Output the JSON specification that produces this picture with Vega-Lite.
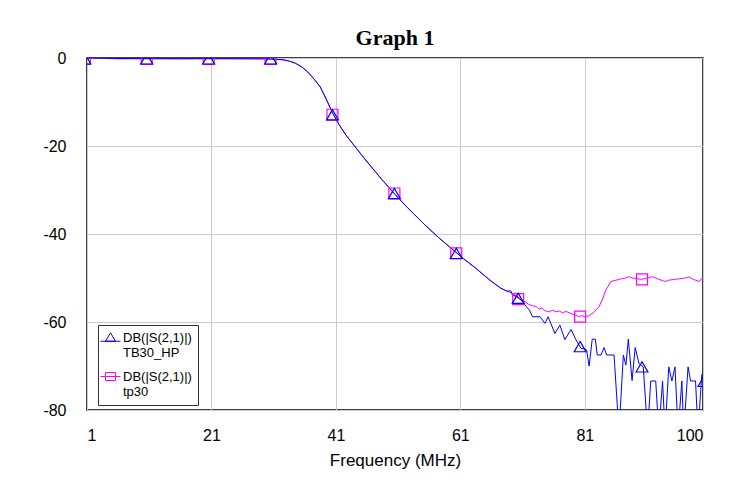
{
  "$schema": "https://vega.github.io/schema/vega-lite/v6.json",
  "width": 616,
  "height": 352,
  "autosize": {"type": "none"},
  "padding": {"left": 87, "top": 58, "right": 29, "bottom": 78},
  "background": "white",
  "title": {"text": "Graph 1", "font": "Liberation Serif", "fontSize": 22, "fontWeight": "bold", "color": "black", "offset": 0, "anchor": "middle"},
  "datasets": {
    "tb30": [
      {"freq":1,"db":0},{"freq":3,"db":-0.05},{"freq":6,"db":-0.1},{"freq":11,"db":-0.15},{"freq":16,"db":-0.15},{"freq":21,"db":-0.15},{"freq":26,"db":-0.15},{"freq":30,"db":-0.2},{"freq":31.5,"db":-0.3},{"freq":32.5,"db":-0.4},{"freq":33.5,"db":-0.7},{"freq":34.5,"db":-1.2},{"freq":35.5,"db":-2.0},{"freq":36.5,"db":-3.2},{"freq":37.5,"db":-4.8},{"freq":38.5,"db":-6.6},{"freq":39.5,"db":-9.5},{"freq":40.5,"db":-12.6},{"freq":41.5,"db":-15.1},{"freq":42.5,"db":-17.3},{"freq":43.5,"db":-19.1},{"freq":44.5,"db":-20.9},{"freq":45.5,"db":-22.7},{"freq":46.5,"db":-24.4},{"freq":47.5,"db":-26.1},{"freq":48.5,"db":-27.8},{"freq":49.5,"db":-29.4},{"freq":50.5,"db":-31.0},{"freq":51.5,"db":-32.5},{"freq":52.5,"db":-34.0},{"freq":53.5,"db":-35.4},{"freq":54.5,"db":-36.8},{"freq":55.5,"db":-38.2},{"freq":56.5,"db":-39.5},{"freq":57.5,"db":-40.8},{"freq":58.5,"db":-42.0},{"freq":59.5,"db":-43.2},{"freq":60.5,"db":-44.4},{"freq":61.5,"db":-45.6},{"freq":62.5,"db":-46.7},{"freq":63.5,"db":-47.8},{"freq":64.5,"db":-49.0},{"freq":65.5,"db":-50.2},{"freq":66.5,"db":-51.3},{"freq":67.5,"db":-52.3},{"freq":68.5,"db":-53.0},{"freq":69.1,"db":-52.9},{"freq":69.4,"db":-53.9},{"freq":70.3,"db":-54.3},
      {"freq":71.0,"db":-55.4},{"freq":71.6,"db":-56.5},{"freq":72.1,"db":-57.3},{"freq":72.6,"db":-58.8},{"freq":73.8,"db":-58.8},{"freq":74.6,"db":-60.3},{"freq":75.1,"db":-58.8},{"freq":76.2,"db":-62.6},{"freq":77.0,"db":-60.7},{"freq":77.8,"db":-64.0},{"freq":78.8,"db":-61.7},{"freq":79.6,"db":-64.1},{"freq":80.4,"db":-66.0},{"freq":80.9,"db":-66.1},{"freq":81.3,"db":-66.4},{"freq":81.7,"db":-70.0},{"freq":82.2,"db":-63.9},{"freq":82.7,"db":-63.9},{"freq":83.0,"db":-67.5},{"freq":83.6,"db":-67.5},{"freq":84.1,"db":-65.8},{"freq":84.5,"db":-67.5},{"freq":85.7,"db":-67.5},{"freq":86.5,"db":-85},{"freq":87.2,"db":-67.5},{"freq":87.6,"db":-69.8},{"freq":88.0,"db":-63.9},{"freq":88.6,"db":-73.3},{"freq":89.1,"db":-65.8},{"freq":89.7,"db":-69.4},{"freq":90.4,"db":-70.2},{"freq":91.1,"db":-85},{"freq":91.6,"db":-73.4},{"freq":92.4,"db":-73.4},{"freq":92.9,"db":-85},{"freq":93.5,"db":-73.4},{"freq":93.9,"db":-85},{"freq":94.5,"db":-70.2},{"freq":95.0,"db":-73.4},{"freq":95.5,"db":-70.2},{"freq":96.0,"db":-85},{"freq":96.6,"db":-73.4},{"freq":96.9,"db":-85},{"freq":97.6,"db":-70.2},{"freq":98.0,"db":-73.4},{"freq":98.8,"db":-73.4},{"freq":99.2,"db":-85},{"freq":99.8,"db":-72.0},{"freq":100,"db":-71.5}
    ],
    "tp30": [
      {"freq":1,"db":0},{"freq":3,"db":-0.05},{"freq":6,"db":-0.2},{"freq":11,"db":-0.15},{"freq":16,"db":-0.2},{"freq":21,"db":-0.15},{"freq":26,"db":-0.2},{"freq":30,"db":-0.2},{"freq":31.5,"db":-0.3},{"freq":32.5,"db":-0.4},{"freq":33.5,"db":-0.7},{"freq":34.5,"db":-1.2},{"freq":35.5,"db":-2.0},{"freq":36.5,"db":-3.2},{"freq":37.5,"db":-4.8},{"freq":38.5,"db":-6.6},{"freq":39.5,"db":-9.5},{"freq":40.5,"db":-12.6},{"freq":41.5,"db":-15.1},{"freq":42.5,"db":-17.3},{"freq":43.5,"db":-19.1},{"freq":44.5,"db":-20.9},{"freq":45.5,"db":-22.7},{"freq":46.5,"db":-24.4},{"freq":47.5,"db":-26.1},{"freq":48.5,"db":-27.8},{"freq":49.5,"db":-29.4},{"freq":50.5,"db":-31.0},{"freq":51.5,"db":-32.5},{"freq":52.5,"db":-34.0},{"freq":53.5,"db":-35.4},{"freq":54.5,"db":-36.8},{"freq":55.5,"db":-38.2},{"freq":56.5,"db":-39.5},{"freq":57.5,"db":-40.8},{"freq":58.5,"db":-42.0},{"freq":59.5,"db":-43.2},{"freq":60.5,"db":-44.4},{"freq":61.5,"db":-45.6},{"freq":62.5,"db":-46.7},{"freq":63.5,"db":-47.8},{"freq":64.5,"db":-49.0},{"freq":65.5,"db":-50.2},{"freq":66.5,"db":-51.3},{"freq":67.5,"db":-52.3},{"freq":68.5,"db":-53.0},{"freq":69.5,"db":-53.6},{"freq":70.5,"db":-54.8},
      {"freq":71.4,"db":-55.4},{"freq":72.0,"db":-56.0},{"freq":72.6,"db":-56.3},{"freq":73.2,"db":-56.5},{"freq":73.7,"db":-57.1},{"freq":74.1,"db":-56.8},{"freq":74.5,"db":-57.4},{"freq":75.3,"db":-57.7},{"freq":75.8,"db":-57.3},{"freq":76.4,"db":-57.7},{"freq":76.9,"db":-57.5},{"freq":77.4,"db":-57.9},{"freq":78.0,"db":-57.6},{"freq":78.5,"db":-57.9},{"freq":79.0,"db":-58.2},{"freq":79.6,"db":-58.4},{"freq":80.1,"db":-58.8},{"freq":80.5,"db":-58.5},{"freq":80.9,"db":-58.8},{"freq":81.7,"db":-58.6},{"freq":82.5,"db":-57.7},{"freq":83.3,"db":-56.5},{"freq":83.8,"db":-55.0},{"freq":84.4,"db":-52.7},{"freq":85.2,"db":-50.8},{"freq":86.0,"db":-50.5},{"freq":86.6,"db":-50.3},{"freq":87.1,"db":-50.1},{"freq":87.6,"db":-50.0},{"freq":88.1,"db":-49.7},{"freq":88.6,"db":-50.0},{"freq":89.2,"db":-50.1},{"freq":90.0,"db":-50.3},{"freq":90.8,"db":-50.1},{"freq":91.3,"db":-49.9},{"freq":91.9,"db":-49.7},{"freq":92.4,"db":-50.0},{"freq":92.9,"db":-50.3},{"freq":93.5,"db":-50.6},{"freq":94.0,"db":-50.8},{"freq":94.5,"db":-50.5},{"freq":95.0,"db":-50.4},{"freq":95.6,"db":-50.3},{"freq":96.1,"db":-50.2},{"freq":96.7,"db":-50.1},{"freq":97.2,"db":-50.0},{"freq":97.8,"db":-49.8},{"freq":98.3,"db":-50.2},{"freq":98.8,"db":-50.5},{"freq":99.4,"db":-50.8},{"freq":99.8,"db":-50.1},{"freq":100,"db":-50.3}
    ],
    "markers": [
      {"series":"TB30_HP","freq":0.65,"db":-0.2},{"series":"TB30_HP","freq":10.6,"db":-0.2},{"series":"TB30_HP","freq":20.55,"db":-0.2},{"series":"TB30_HP","freq":30.5,"db":-0.2},{"series":"TB30_HP","freq":40.45,"db":-12.9},{"series":"TB30_HP","freq":50.4,"db":-30.8},{"series":"TB30_HP","freq":60.35,"db":-44.4},{"series":"TB30_HP","freq":70.3,"db":-54.6},{"series":"TB30_HP","freq":80.25,"db":-65.6},{"series":"TB30_HP","freq":90.2,"db":-70.2},{"series":"TB30_HP","freq":100.15,"db":-73.5},
      {"series":"tp30","freq":0.65,"db":-0.2},{"series":"tp30","freq":10.6,"db":-0.2},{"series":"tp30","freq":20.55,"db":-0.2},{"series":"tp30","freq":30.5,"db":-0.2},{"series":"tp30","freq":40.45,"db":-12.9},{"series":"tp30","freq":50.4,"db":-30.8},{"series":"tp30","freq":60.35,"db":-44.4},{"series":"tp30","freq":70.3,"db":-54.8},{"series":"tp30","freq":80.25,"db":-58.8},{"series":"tp30","freq":90.2,"db":-50.3}
    ]
  },
  "encoding": {
    "x": {"field": "freq", "type": "quantitative", "scale": {"domain": [1, 100], "nice": false, "zero": false},
      "axis": {"values": [1, 21, 41, 61, 81, 100], "title": "Frequency (MHz)", "labelPadding": 17, "titlePadding": 9}},
    "y": {"field": "db", "type": "quantitative", "scale": {"domain": [-80, 0], "nice": false, "zero": false},
      "axis": {"values": [0, -20, -40, -60, -80], "title": null, "labelPadding": 21, "labelExpr": "toString(datum.value)"}}
  },
  "layer": [
    {"data": {"name": "tp30"}, "mark": {"type": "line", "stroke": "#ff00ff", "strokeWidth": 1, "clip": true}},
    {"data": {"name": "tb30"}, "mark": {"type": "line", "stroke": "#0000ff", "strokeWidth": 1, "clip": true}},
    {"data": {"name": "markers"}, "transform": [{"filter": "datum.series === 'tp30'"}],
      "mark": {"type": "point", "shape": "square", "size": 121, "filled": false, "strokeWidth": 1.2, "opacity": 1, "clip": true},
      "encoding": {"stroke": {"field": "series", "type": "nominal",
        "scale": {"domain": ["TB30_HP", "tp30"], "range": ["#0000ff", "#ff00ff"]},
        "legend": {"orient": "none", "legendX": 11, "legendY": 267, "title": null, "strokeColor": "#333333", "fillColor": "white", "padding": 6, "rowPadding": 10,
          "labelFont": "Liberation Sans", "labelFontSize": 13, "labelColor": "black", "labelLimit": 0, "symbolSize": 100, "symbolStrokeWidth": 1, "labelOffset": 6,
          "labelExpr": "['DB(|S(2,1)|)', datum.label]",
          "symbolType": {"expr": "datum.value === 'TB30_HP' ? 'M-2,0.75H2M-1,0.75L0,-0.95L1,0.75Z' : 'M-2,0H2M-1,-0.8H1V0.8H-1Z'"},
          "encode": {"symbols": {"update": {"fill": {"value": "transparent"}}},
                     "labels": {"update": {"dy": {"value": 7}}}}}}}},
    {"data": {"name": "markers"}, "transform": [{"filter": "datum.series === 'TB30_HP'"}],
      "mark": {"type": "point", "shape": "triangle-up", "size": 140, "filled": false, "strokeWidth": 1.2, "opacity": 1, "clip": true},
      "encoding": {"stroke": {"field": "series", "type": "nominal"}}}
  ],
  "config": {
    "view": {"stroke": "black", "strokeWidth": 1.5},
    "axis": {"grid": true, "gridColor": "#cccccc", "gridWidth": 1, "domain": false, "ticks": false,
      "labelFont": "Liberation Sans", "labelFontSize": 16, "labelColor": "black",
      "titleFont": "Liberation Sans", "titleFontSize": 17, "titleFontWeight": "normal", "titleColor": "black"}
  }
}
